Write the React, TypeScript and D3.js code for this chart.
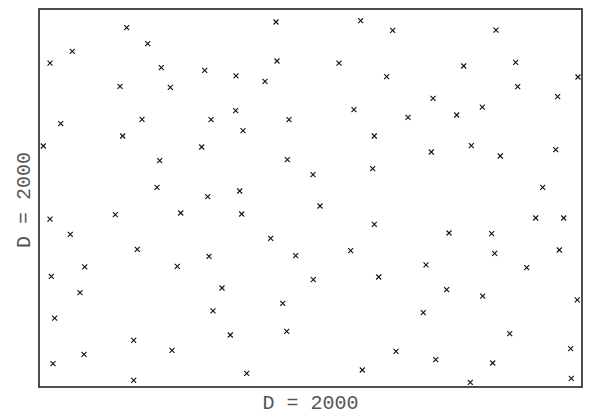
import * as d3 from 'd3'
import { useEffect, useRef } from 'react'

// point positions, both axes on a 0..100 scale
const xs = [
  16.15, 20.02, 6.13, 2.03, 22.52, 30.52, 14.92, 24.18, 4.0, 18.97, 31.68, 15.41, 0.79, 29.96, 22.23, 21.73, 31.07,
  43.65, 59.24, 65.14, 43.83, 55.25, 36.28, 41.62, 64.03, 36.22, 46.04, 58.01, 67.96, 37.57, 61.75, 45.73, 50.46, 61.45, 36.96,
  84.16, 78.21, 87.79, 99.26, 88.16, 72.56, 95.52, 81.64, 76.92, 72.25, 79.61, 84.95, 95.16, 92.76,
  2.03, 14.05, 26.1, 5.76, 18.1, 31.31, 8.42, 25.47, 2.27, 7.55, 33.7, 32.04, 2.89, 17.44, 24.49, 8.29, 2.58, 17.44,
  37.33, 51.75, 61.75, 42.67, 47.27, 57.4, 50.52, 62.56, 44.88, 35.23, 45.62, 65.75, 38.25, 59.54,
  91.47, 96.63, 75.51, 83.37, 83.92, 95.82, 71.27, 89.82, 75.08, 81.71, 99.13, 70.77, 86.69, 97.92, 73.06, 83.55, 79.43, 98.03,
]
const ys = [
  95.05, 90.82, 88.81, 85.71, 84.47, 83.78, 79.55, 79.29, 69.66, 70.82, 70.71, 66.4, 63.76, 63.49, 59.87, 52.83, 50.34,
  96.56, 96.9, 94.37, 86.24, 85.71, 82.28, 80.87, 82.09, 73.1, 70.71, 73.36, 71.35, 67.8, 66.4, 60.13, 56.16, 57.75, 51.85,
  94.44, 84.92, 85.9, 82.01, 79.44, 76.38, 76.8, 74.07, 71.96, 62.17, 63.84, 61.11, 62.78, 52.83,
  44.44, 45.58, 46.03, 40.4, 36.43, 34.58, 31.75, 31.93, 29.29, 24.95, 26.19, 20.11, 18.25, 12.35, 9.71, 8.65, 6.16, 1.77,
  45.77, 47.88, 43.04, 39.34, 34.74, 36.06, 28.39, 29.1, 22.14, 13.76, 14.74, 9.44, 3.62, 4.5,
  44.71, 44.71, 40.74, 40.56, 35.37, 36.24, 32.28, 31.56, 25.74, 24.07, 23.02, 19.66, 14.1, 10.13, 7.22, 6.35, 1.24, 2.3,
]
const xLabel = 'D = 2000'
const yLabel = 'D = 2000'

const W = 592
const H = 415
const margin = { top: 9, right: 10, bottom: 28, left: 39 }

export default function App() {
  const ref = useRef<SVGSVGElement>(null)

  useEffect(() => {
    const svg = d3.select(ref.current)
    svg.selectAll('*').remove()

    const x = d3.scaleLinear().domain([0, 100]).range([margin.left, W - margin.right])
    const y = d3.scaleLinear().domain([0, 100]).range([H - margin.bottom, margin.top])

    const pts = xs.map((v, i) => [v, ys[i]])
    const s = 2.5

    svg.append('g')
      .selectAll('path')
      .data(pts)
      .join('path')
        .attr('d', d => {
          const cx = x(d[0]), cy = y(d[1])
          return `M${cx - s},${cy - s}L${cx + s},${cy + s}M${cx - s},${cy + s}L${cx + s},${cy - s}`
        })
        .attr('stroke', '#111')
        .attr('stroke-width', 1.1)
        .attr('fill', 'none')

    // frame
    svg.append('rect')
      .attr('x', x(0))
      .attr('y', y(100))
      .attr('width', x(100) - x(0))
      .attr('height', y(0) - y(100))
      .attr('fill', 'none')
      .attr('stroke', '#222')
      .attr('stroke-width', 1.6)

    const font = '"Courier New", Courier, "Liberation Mono", monospace'

    svg.append('text')
      .attr('x', (x(0) + x(100)) / 2)
      .attr('y', 409)
      .attr('text-anchor', 'middle')
      .attr('font-family', font)
      .attr('font-size', 20)
      .attr('fill', '#555')
      .text(xLabel)

    svg.append('text')
      .attr('transform', `translate(30,${(y(0) + y(100)) / 2 + 2}) rotate(-90)`)
      .attr('text-anchor', 'middle')
      .attr('font-family', font)
      .attr('font-size', 20)
      .attr('fill', '#555')
      .text(yLabel)
  }, [])

  return (
    <div style={{ position: 'fixed', left: 0, top: 0, background: '#fff' }}>
      <svg ref={ref} width={W} height={H} style={{ display: 'block' }} />
    </div>
  )
}
